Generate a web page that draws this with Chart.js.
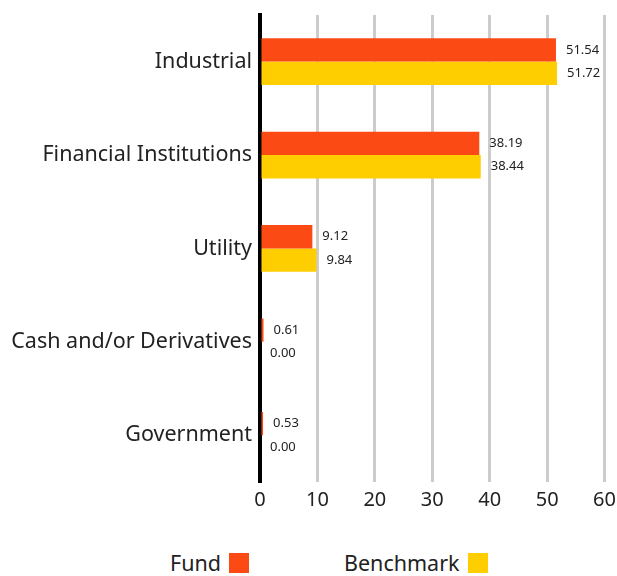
<!DOCTYPE html>
<html>
<head>
<meta charset="utf-8">
<script src="https://cdn.jsdelivr.net/npm/chart.js@4"></script>
<style>
  body { margin: 0; background: #fff; font-family: "Noto Sans", sans-serif; }
  #wrap { position: relative; width: 617px; height: 576px; overflow: hidden; }
  #chartBox { position: absolute; left: 0; top: -6px; width: 622px; height: 536px; }
  .leg { position: absolute; top: 548px; font-size: 21.5px; color: #222; display: flex; align-items: center; }
  .leg span.box { display: inline-block; width: 20px; height: 20px; margin-left: 8px; }
</style>
</head>
<body>
<div id="wrap">
  <div id="chartBox"><canvas id="myChart"></canvas></div>
  <div class="leg" style="left:170px">Fund<span class="box" style="background:#FC4A14"></span></div>
  <div class="leg" style="left:344px">Benchmark<span class="box" style="background:#FFCE00"></span></div>
</div>
<script>
// dados do gráfico
const categorias = ['Industrial', 'Financial Institutions', 'Utility', 'Cash and/or Derivatives', 'Government'];
const fund = [51.54, 38.19, 9.12, 0.61, 0.53];
const benchmark = [51.72, 38.44, 9.84, 0.00, 0.00];
const ticksX = [0, 10, 20, 30, 40, 50, 60];

// plugin simples para escrever os valores ao lado das barras
const valueLabels = {
    id: 'valueLabels',
    afterDatasetsDraw(chart) {
        const ctx = chart.ctx;
        ctx.save();
        ctx.font = '13px "Noto Sans"';
        ctx.fillStyle = '#222';
        ctx.textBaseline = 'middle';
        chart.data.datasets.forEach((ds, i) => {
            chart.getDatasetMeta(i).data.forEach((bar, j) => {
                ctx.fillText(ds.data[j].toFixed(2), bar.x + 10, bar.y);
            });
        });
        ctx.restore();
    }
};

new Chart('myChart', {
    type: 'bar',
    data: {
        labels: categorias,
        datasets: [
            { label: 'Fund', data: fund, backgroundColor: '#FC4A14', barPercentage: 1, categoryPercentage: 0.5 },
            { label: 'Benchmark', data: benchmark, backgroundColor: '#FFCE00', barPercentage: 1, categoryPercentage: 0.5 }
        ]
    },
    options: {
        indexAxis: 'y',
        responsive: true,
        maintainAspectRatio: false,
        animation: false,
        layout: { padding: { top: 8, right: 8, left: 0, bottom: 0 } },
        plugins: { legend: { display: false }, tooltip: { enabled: false } },
        scales: {
            x: {
                min: 0, max: 60,
                afterBuildTicks: scale => { scale.ticks = ticksX.map(v => ({ value: v })); },
                afterFit: scale => { scale.height = 48; },
                grid: { color: '#cccccc', lineWidth: 3, drawTicks: false },
                border: { display: false },
                ticks: { padding: 6, color: '#222', font: { size: 20, family: 'Noto Sans' } }
            },
            y: {
                afterFit: scale => { scale.width = 260; },
                grid: { display: false, drawTicks: false },
                border: { color: '#000', width: 4 },
                ticks: { padding: 8, color: '#222', font: { size: 21.5, family: 'Noto Sans' } }
            }
        }
    },
    plugins: [valueLabels]
});
</script>
</body>
</html>
